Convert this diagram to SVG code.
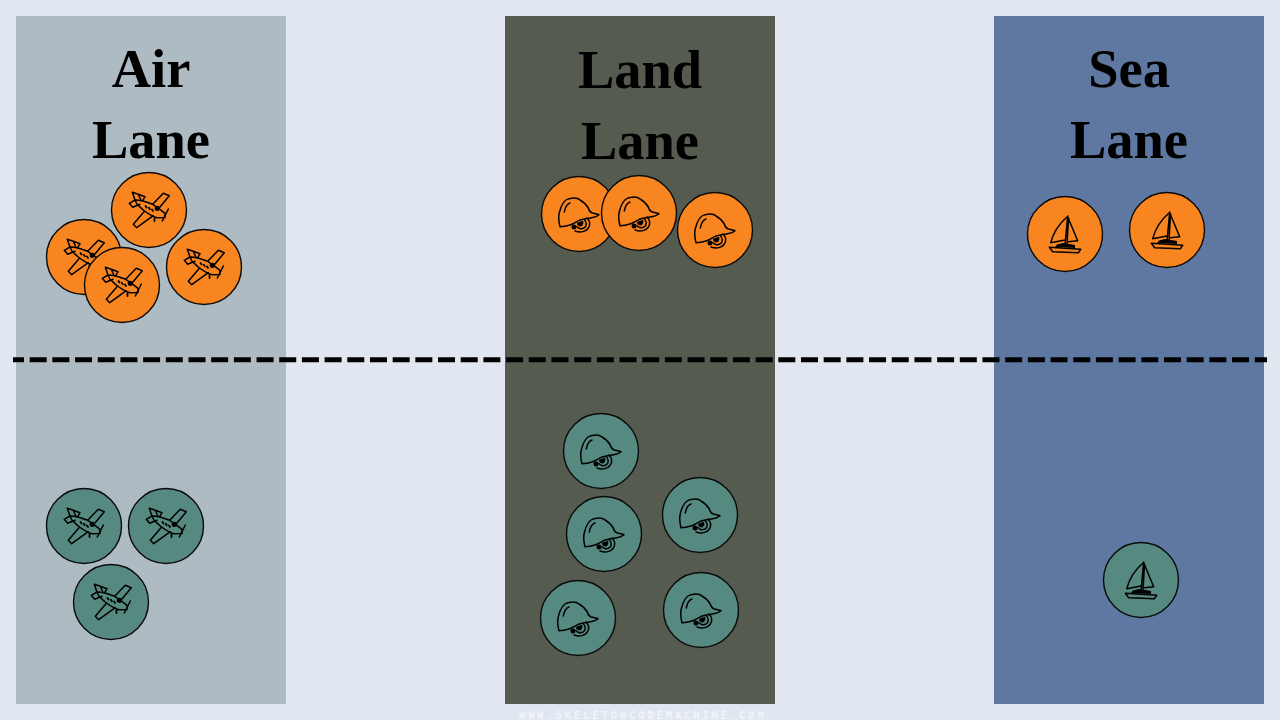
<svg xmlns="http://www.w3.org/2000/svg" width="1280" height="720" viewBox="0 0 1280 720">
<style>
.bg{fill:#E0E7F1}
.title{font-family:"Liberation Serif","Times New Roman",serif;font-weight:bold;font-size:54.5px;fill:#000;text-anchor:middle}
.foot{font-family:"DejaVu Sans Mono","Liberation Mono",monospace;font-size:10.5px;font-weight:bold;fill:#F2F5F9;letter-spacing:2.85px}
.disc{stroke:#0b0b0b;stroke-width:1.4}
.o{fill:#F8851F}
.t{fill:#568980}
.ic{fill:none;stroke:#000;stroke-width:1.5;stroke-linejoin:round;stroke-linecap:round}
.k{fill:#000;stroke:none}
</style>
<defs>
<g id="plane">
<path class="ic" d="M-14,-10L-16.7,-17.7L-10.7,-15.7L-8,-9.5M-10.7,-15.7L-4,-13.3L-6.3,-9.3M-14,-10L-19.7,-6.7L-16.3,-2.7L-9,-5.7"/>
<path class="ic" d="M-14,-10C-8,-10,-2,-8,3.7,-5.7C8,-3,12,0,16,3.3L16,7.5L8,7.7C2,6,-2,3,-5.7,0C-8,-2,-10,-4,-12,-5.7Z"/>
<path class="ic" d="M3.7,-5.7L14.3,-16.7L20.3,-14.3L9.3,-1M-5,1.7L-15.7,14.3L-12.3,17.7L4.3,5.7"/>
<path class="ic" d="M19.3,-1L13.3,11"/>
<path class="ic" style="stroke-width:1.8" d="M-3.5,-4L-2.5,-2.5M-0.2,-2.2L0.8,-0.7M3,-0.5L4,1M5.5,8L5.5,11"/>
<circle class="k" cx="8.3" cy="-1.7" r="2.6"/>
</g>
<g id="helmet">
<path class="ic" d="M-19,12.7C-20.5,7-20.5,2-19.7,-1.3C-18,-9-14,-15-9,-15.5C-4,-16.5,-1,-16,1,-14C5,-12,8,-8,9.3,-6C10,-3,11,-2,12.7,-1.3C15,-0.5,18,0,20,0.7C18,2.5,15,3.3,12.7,3.7C8,4.5,4,5,1,6C-3,8,-6,10,-9,11C-12,12,-16,12.7,-19,12.7Z"/>
<path class="ic" d="M-14.7,-2C-14,-6,-12,-10,-9,-11"/>
<path class="ic" d="M8,4C11,7,11.5,11,9,14.5C7,17.5,2,19,-4,17"/>
<path class="ic" d="M5,5.5C8,8,8,12,5,14C2,15.5,-1,14.5,-2,12.5"/>
<path class="k" d="M-2,9C0,8,2,7,4,7C5,9,4,12,1.5,12.5C-0.5,12.5,-2,11,-2,9Z"/>
<circle class="k" cx="-5" cy="13" r="2.5"/>
</g>
<g id="boat">
<path class="ic" d="M1.7,-16.7C-6,-10,-12,0,-14.3,8.7L0,6M3.3,-15.7L12.7,6.7L3.3,7.7"/>
<path class="ic" d="M2.7,-18L0,11M3.5,-16L2,11"/>
<path class="ic" d="M-15.7,13.3L15.7,15.3L13.3,18.7L-12.3,17.7Z"/>
<path class="k" d="M-8,10.5L-2,9L4,10L10,11L10,14L-10,13Z"/>
</g>
</defs>
<rect class="bg" width="1280" height="720"/>
<g id="lane-air"><rect x="16" y="16" width="270" height="688" fill="#AFBBC3"/><text class="title" x="151" y="87">Air</text><text class="title" x="151" y="158">Lane</text></g>
<g id="lane-land"><rect x="505" y="16" width="270" height="688" fill="#565B50"/><text class="title" x="640" y="88">Land</text><text class="title" x="640" y="159">Lane</text></g>
<g id="lane-sea"><rect x="994" y="16" width="270" height="688" fill="#5E78A2"/><text class="title" x="1129" y="87">Sea</text><text class="title" x="1129" y="158">Lane</text></g>
<g id="air-o1"><circle class="disc o" cx="84" cy="257" r="37.5"/><use href="#plane" transform="translate(84,257)"/></g>
<g id="air-o2"><circle class="disc o" cx="149" cy="210" r="37.5"/><use href="#plane" transform="translate(149,210)"/></g>
<g id="air-o3"><circle class="disc o" cx="122" cy="285" r="37.5"/><use href="#plane" transform="translate(122,285)"/></g>
<g id="air-o4"><circle class="disc o" cx="204" cy="267" r="37.5"/><use href="#plane" transform="translate(204,267)"/></g>
<g id="land-o1"><circle class="disc o" cx="579" cy="214" r="37.5"/><use href="#helmet" transform="translate(579,214)"/></g>
<g id="land-o2"><circle class="disc o" cx="639" cy="213" r="37.5"/><use href="#helmet" transform="translate(639,213)"/></g>
<g id="land-o3"><circle class="disc o" cx="715" cy="230" r="37.5"/><use href="#helmet" transform="translate(715,230)"/></g>
<g id="sea-o1"><circle class="disc o" cx="1065" cy="234" r="37.5"/><use href="#boat" transform="translate(1065,234)"/></g>
<g id="sea-o2"><circle class="disc o" cx="1167" cy="230" r="37.5"/><use href="#boat" transform="translate(1167,230)"/></g>
<g id="air-t1"><circle class="disc t" cx="84" cy="526" r="37.5"/><use href="#plane" transform="translate(84,526)"/></g>
<g id="air-t2"><circle class="disc t" cx="166" cy="526" r="37.5"/><use href="#plane" transform="translate(166,526)"/></g>
<g id="air-t3"><circle class="disc t" cx="111" cy="602" r="37.5"/><use href="#plane" transform="translate(111,602)"/></g>
<g id="land-t1"><circle class="disc t" cx="601" cy="451" r="37.5"/><use href="#helmet" transform="translate(601,451)"/></g>
<g id="land-t2"><circle class="disc t" cx="604" cy="534" r="37.5"/><use href="#helmet" transform="translate(604,534)"/></g>
<g id="land-t3"><circle class="disc t" cx="700" cy="515" r="37.5"/><use href="#helmet" transform="translate(700,515)"/></g>
<g id="land-t4"><circle class="disc t" cx="578" cy="618" r="37.5"/><use href="#helmet" transform="translate(578,618)"/></g>
<g id="land-t5"><circle class="disc t" cx="701" cy="610" r="37.5"/><use href="#helmet" transform="translate(701,610)"/></g>
<g id="sea-t1"><circle class="disc t" cx="1141" cy="580" r="37.5"/><use href="#boat" transform="translate(1141,580)"/></g>
<g id="connectors"><line id="divider" x1="13" y1="359.8" x2="1267" y2="359.8" stroke="#000" stroke-width="5" stroke-dasharray="17 5.686" stroke-dashoffset="6"/></g>
<text class="foot" x="519" y="719">WWW.SKELETONCODEMACHINE.COM</text>
</svg>
